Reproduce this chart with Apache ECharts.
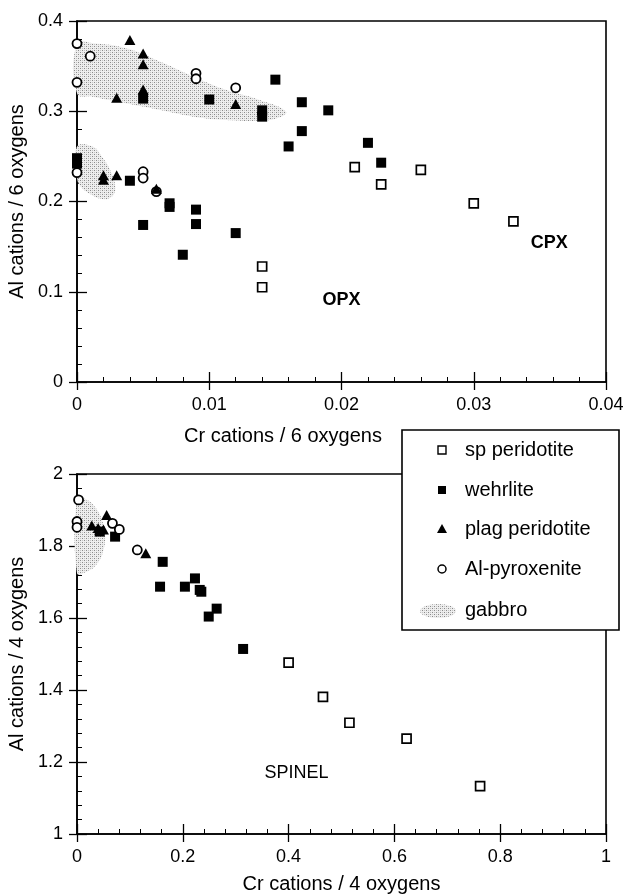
<!DOCTYPE html>
<html><head><meta charset="utf-8">
<script src="https://cdn.jsdelivr.net/npm/echarts@6/dist/echarts.min.js"></script>
<style>html,body{margin:0;padding:0;background:#fff}#c{width:631px;height:894px}</style>
</head><body><div id="c"></div>
<script>
// ---------- data: pyroxene (top) ----------
const spPxTop   = [[0.014,0.128],[0.014,0.105],[0.021,0.238],[0.023,0.219],[0.026,0.235],[0.030,0.198],[0.033,0.178]];
const wehrPxTop = [[0.005,0.314],[0.010,0.313],[0.014,0.301],[0.014,0.294],[0.015,0.335],[0.017,0.310],[0.019,0.301],[0.017,0.278],[0.016,0.261],[0.022,0.265],[0.023,0.243],[0.004,0.223],[0.007,0.198],[0.007,0.194],[0.009,0.191],[0.009,0.175],[0.005,0.174],[0.008,0.141],[0.012,0.165],[0,0.248],[0,0.242]];
const plagPxTop = [[0.004,0.379],[0.005,0.364],[0.005,0.352],[0.003,0.315],[0.005,0.324],[0.012,0.308],[0.002,0.229],[0.002,0.224],[0.003,0.229],[0.006,0.214]];
const alPxTop   = [[0,0.375],[0.001,0.361],[0,0.332],[0.009,0.342],[0.009,0.336],[0.012,0.326],[0,0.232],[0.005,0.233],[0.005,0.226],[0.006,0.211]];
const gabbroPxUpper = [[0,0.3753],[0.0012,0.3753],[0.0037,0.3698],[0.0063,0.3549],[0.0088,0.3383],[0.0113,0.3235],[0.0138,0.3125],[0.0158,0.2995],[0.0151,0.2922],[0.0138,0.2895],[0.0113,0.2903],[0.0088,0.2940],[0.0063,0.3014],[0.0037,0.3088],[0.0012,0.3161],[0,0.3199]];
const gabbroPxLower = [[0,0.2607],[0.0012,0.2607],[0.0019,0.2493],[0.0025,0.2349],[0.0029,0.2150],[0.0026,0.2050],[0.0019,0.2028],[0.0010,0.2083],[0.0002,0.2183],[0,0.2294]];
const pxLabels = [{value:[0.0357,0.154],name:'CPX'},{value:[0.0200,0.091],name:'OPX'}];

// ---------- data: spinel (bottom) ----------
const spSp   = [[0.400,1.476],[0.465,1.381],[0.515,1.309],[0.623,1.265],[0.762,1.133]];
const wehrSp = [[0.043,1.840],[0.072,1.826],[0.162,1.756],[0.157,1.687],[0.204,1.687],[0.223,1.710],[0.232,1.678],[0.235,1.673],[0.249,1.604],[0.264,1.626],[0.314,1.514]];
const plagSp = [[0.056,1.886],[0.028,1.857],[0.040,1.850],[0.050,1.846],[0.130,1.780]];
const alSp   = [[0.003,1.928],[0,1.868],[0,1.852],[0.067,1.863],[0.080,1.846],[0.114,1.789]];
const gabbroSp = [[0,1.933],[0.015,1.931],[0.034,1.908],[0.047,1.872],[0.053,1.831],[0.049,1.783],[0.036,1.747],[0.017,1.728],[0,1.725]];
const spLabels = [{value:[0.415,1.169],name:'SPINEL'}];

const legendNames = ['sp peridotite','wehrlite','plag peridotite','Al-pyroxenite','gabbro'];

// ---------- styling ----------
const FONT = '"Liberation Sans", Arial, Helvetica, sans-serif';
const pat = document.createElement('canvas');
pat.width = 4; pat.height = 4;
(function(){
  const g = pat.getContext('2d');
  g.fillStyle = '#eeeeee'; g.fillRect(0,0,4,4);
  g.fillStyle = '#8a8a8a'; g.fillRect(0,0,1,1); g.fillRect(2,2,1,1);
  g.fillStyle = '#c4c4c4'; g.fillRect(2,0,1,1); g.fillRect(0,2,1,1);
})();
const patternFill = {image: pat, repeat: 'repeat'};

function mainAxis(gridIndex, pos, min, max, interval, name, nameGap, extra) {
  return Object.assign({
    gridIndex, type:'value', position: pos, min, max, interval,
    axisLine:{show:true, onZero:false, lineStyle:{color:'#000', width:1.6}},
    axisTick:{show:true, inside:true, length:10, lineStyle:{color:'#000', width:1.3}},
    minorTick:{show:true, splitNumber:5, length:5, lineStyle:{color:'#000', width:1}},
    splitLine:{show:false}, minorSplitLine:{show:false},
    axisLabel:{color:'#000', fontSize:18, fontFamily:FONT, margin:14},
    name, nameLocation:'middle', nameGap,
    nameTextStyle:{color:'#000', fontSize:20, fontFamily:FONT}
  }, extra || {});
}
function overlayAxis(gridIndex, pos, min, max, interval) {
  return {
    gridIndex, type:'value', position: pos, min, max, interval,
    axisLine:{show:false},
    axisTick:{show:true, inside:false, length:8, lineStyle:{color:'#000', width:1.3}},
    minorTick:{show:false}, splitLine:{show:false},
    axisLabel:{show:false}
  };
}

function scatter(name, data, xi, yi, kind) {
  const s = {name, type:'scatter', data, xAxisIndex:xi, yAxisIndex:yi, z:5, clip:false};
  if (kind === 'sp') { s.symbol='rect'; s.symbolSize=9; s.itemStyle={color:'#fff', borderColor:'#000', borderWidth:1.7, opacity:1}; }
  if (kind === 'wehr') { s.symbol='rect'; s.symbolSize=10; s.itemStyle={color:'#000', opacity:1}; }
  if (kind === 'plag') { s.symbol='triangle'; s.symbolSize=[11,10]; s.itemStyle={color:'#000', opacity:1}; }
  if (kind === 'al') { s.symbol='circle'; s.symbolSize=9; s.itemStyle={color:'#fff', borderColor:'#000', borderWidth:1.8, opacity:1}; }
  s.emphasis = {disabled:true};
  return s;
}
function blob(name, pts, xi, yi) {
  return {
    name, type:'custom', xAxisIndex:xi, yAxisIndex:yi, z:2, clip:false,
    data:[[pts[0][0], pts[0][1]]],
    renderItem: function(params, api){
      return {type:'polygon', shape:{points: pts.map(p => api.coord(p)), smooth:0.45},
              style:{fill: patternFill, stroke:null}};
    }
  };
}
function labels(data, xi, yi, bold) {
  return {
    type:'scatter', xAxisIndex:xi, yAxisIndex:yi, data, symbolSize:1, z:6,
    itemStyle:{color:'rgba(0,0,0,0)', opacity:1},
    label:{show:true, position:'inside', formatter: p => p.name, color:'#000', opacity:1,
           fontSize:18, fontWeight: bold ? 'bold' : 'normal', fontFamily:FONT},
    emphasis:{disabled:true}
  };
}

// ---------- legend (drawn as graphic) ----------
const LX = 402, LY = 430, rowY = [450, 490, 529, 569, 610], iconX = 442, textX = 465;
const legendChildren = [
  {type:'rect', shape:{x:LX, y:LY, width:217, height:200}, style:{fill:'#fff', stroke:'#000', lineWidth:1.6}},
  {type:'rect', shape:{x:iconX-4, y:rowY[0]-4, width:8, height:8}, style:{fill:'#fff', stroke:'#000', lineWidth:1.4}},
  {type:'rect', shape:{x:iconX-4, y:rowY[1]-4, width:8, height:8}, style:{fill:'#000'}},
  {type:'polygon', shape:{points:[[iconX, rowY[2]-5],[iconX+5, rowY[2]+4],[iconX-5, rowY[2]+4]]}, style:{fill:'#000'}},
  {type:'circle', shape:{cx:iconX, cy:rowY[3], r:4}, style:{fill:'#fff', stroke:'#000', lineWidth:1.5}},
  {type:'ellipse', shape:{cx:438, cy:rowY[4]+1, rx:18, ry:7}, style:{fill:patternFill}}
];
legendNames.forEach((n, i) => legendChildren.push({
  type:'text', x:textX, y:rowY[i],
  style:{text:n, fill:'#000', font:'20px ' + FONT, textVerticalAlign:'middle', verticalAlign:'middle'}
}));

const option = {
  animation:false,
  backgroundColor:'#fff',
  grid:[
    {left:77, top:21, width:529, height:361, show:true, borderColor:'#000', borderWidth:1.6, backgroundColor:'rgba(0,0,0,0)', outerBoundsMode:'none'},
    {left:77, top:474, width:529, height:360, show:true, borderColor:'#000', borderWidth:1.6, backgroundColor:'rgba(0,0,0,0)', outerBoundsMode:'none'}
  ],
  xAxis:[
    mainAxis(0,'bottom',0,0.04,0.01,'Cr cations / 6 oxygens',44,{nameTextStyle:{color:'#000', fontSize:20, fontFamily:FONT, padding:[0,117,0,0]}}),
    overlayAxis(0,'bottom',0,0.04,0.01),
    mainAxis(1,'bottom',0,1,0.2,'Cr cations / 4 oxygens',40),
    overlayAxis(1,'bottom',0,1,0.2)
  ],
  yAxis:[
    mainAxis(0,'left',0,0.4,0.1,'Al cations / 6 oxygens',50),
    overlayAxis(0,'left',0,0.4,0.1),
    mainAxis(1,'left',1,2,0.2,'Al cations / 4 oxygens',50),
    overlayAxis(1,'left',1,2,0.2)
  ],
  series:[
    blob('gabbro', gabbroPxUpper, 0, 0),
    blob('gabbro', gabbroPxLower, 0, 0),
    scatter('sp peridotite', spPxTop, 0, 0, 'sp'),
    scatter('wehrlite', wehrPxTop, 0, 0, 'wehr'),
    scatter('Al-pyroxenite', alPxTop, 0, 0, 'al'),
    scatter('plag peridotite', plagPxTop, 0, 0, 'plag'),
    labels(pxLabels, 0, 0, true),
    blob('gabbro', gabbroSp, 2, 2),
    scatter('sp peridotite', spSp, 2, 2, 'sp'),
    scatter('wehrlite', wehrSp, 2, 2, 'wehr'),
    scatter('Al-pyroxenite', alSp, 2, 2, 'al'),
    scatter('plag peridotite', plagSp, 2, 2, 'plag'),
    labels(spLabels, 2, 2, false)
  ],
  graphic:[{type:'group', z:100, children: legendChildren}]
};
const chart = echarts.init(document.getElementById('c'), null, {renderer:'canvas'});
chart.setOption(option);
</script>
</body></html>
